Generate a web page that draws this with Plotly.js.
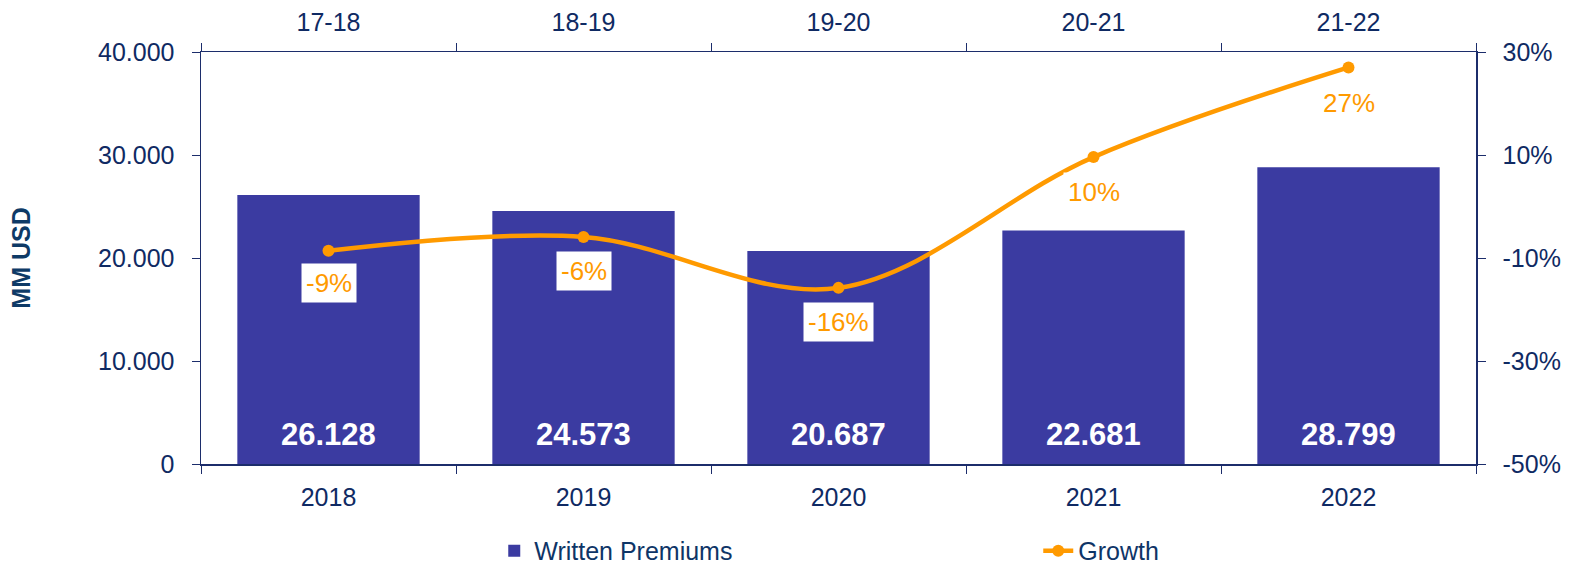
<!DOCTYPE html>
<html>
<head>
<meta charset="utf-8">
<script src="https://cdn.plot.ly/plotly-3.0.1.min.js"></script>
<style>html,body{margin:0;padding:0;background:#fff;}#chart{width:1571px;height:567px;}</style>
</head>
<body>
<div id="chart"></div>
<script>
const years = ['2018', '2019', '2020', '2021', '2022'];
const periods = ['17-18', '18-19', '19-20', '20-21', '21-22'];
const premiums = [26128, 24573, 20687, 22681, 28799];
const growth = [-8.6, -5.9, -15.8, 9.6, 27.0];
const growthLabels = ['-9%', '-6%', '-16%', '10%', '27%'];
const growthTicks = [-50, -30, -10, 10, 30];
const growthTickText = ['-50%', '-30%', '-10%', '10%', '30%'];
const labelShift = [-32, -34, -34, -35, -36];

const navy = '#0F2A63';
const axisCol = '#1C2D6B';
const barCol = '#3B3BA1';
const orange = '#FF9A00';
const fontFam = 'Liberation Sans, Arial, sans-serif';

function fmt(v) {
  return String(v).replace(/\B(?=(\d{3})+(?!\d))/g, '.');
}

const traces = [
  {
    type: 'bar', name: 'Written Premiums', x: years, y: premiums,
    xaxis: 'x', yaxis: 'y', marker: {color: barCol}, width: 0.715,
    hoverinfo: 'skip'
  },
  {
    type: 'scatter', mode: 'lines+markers', name: 'Growth', x: periods, y: growth,
    xaxis: 'x2', yaxis: 'y2',
    line: {color: orange, width: 4.5, shape: 'spline', smoothing: 1},
    marker: {color: orange, size: 12}, hoverinfo: 'skip'
  }
];

const annotations = [];
years.forEach((yr, i) => {
  annotations.push({
    x: i, y: 0, xref: 'x', yref: 'y', text: '<b>' + fmt(premiums[i]) + '</b>',
    showarrow: false, yanchor: 'bottom', yshift: 10,
    font: {family: fontFam, size: 31, color: '#FFFFFF'}
  });
});
periods.forEach((p, i) => {
  annotations.push({
    x: i, y: growth[i], xref: 'x2', yref: 'y2', text: growthLabels[i],
    showarrow: false, yanchor: 'middle', yshift: labelShift[i],
    bgcolor: '#FFFFFF', borderpad: 4,
    font: {family: fontFam, size: 26, color: orange}
  });
});

const axBase = {
  showline: true, linecolor: axisCol, linewidth: 1.5,
  ticks: 'outside', ticklen: 8, tickcolor: axisCol, tickwidth: 1,
  showgrid: false, zeroline: false, fixedrange: true,
  tickfont: {family: fontFam, size: 25, color: navy}
};

const layout = {
  width: 1571, height: 567,
  margin: {l: 201, r: 95, t: 52, b: 103, autoexpand: false},
  paper_bgcolor: '#FFFFFF', plot_bgcolor: '#FFFFFF',
  separators: ',.',
  showlegend: true,
  legend: {
    orientation: 'h', x: 0.23, xanchor: 'left', y: -0.211, yanchor: 'middle',
    entrywidth: 499, entrywidthmode: 'pixels',
    font: {family: fontFam, size: 25, color: '#0E3567'},
    traceorder: 'normal'
  },
  xaxis: Object.assign({}, axBase, {
    type: 'category', categoryarray: years, tickson: 'boundaries',
    range: [-0.5, 4.5], ticklabelstandoff: 10
  }),
  xaxis2: Object.assign({}, axBase, {
    type: 'category', categoryarray: periods, tickson: 'boundaries',
    range: [-0.5, 4.5], overlaying: 'x', side: 'top', anchor: 'y', ticklabelstandoff: 10
  }),
  yaxis: Object.assign({}, axBase, {
    range: [0, 40000], dtick: 10000, tickformat: ',d', ticklabelstandoff: 12,
    title: {text: '<b>MM USD</b>', font: {family: fontFam, size: 25, color: '#0E3A66'}, standoff: 60}
  }),
  yaxis2: Object.assign({}, axBase, {
    range: [-50, 30], tickmode: 'array', tickvals: growthTicks, ticktext: growthTickText,
    overlaying: 'y', side: 'right', anchor: 'x', ticklabelstandoff: 12
  }),
  annotations: annotations
};

Plotly.newPlot('chart', traces, layout, {staticPlot: true, displayModeBar: false});
</script>
</body>
</html>
